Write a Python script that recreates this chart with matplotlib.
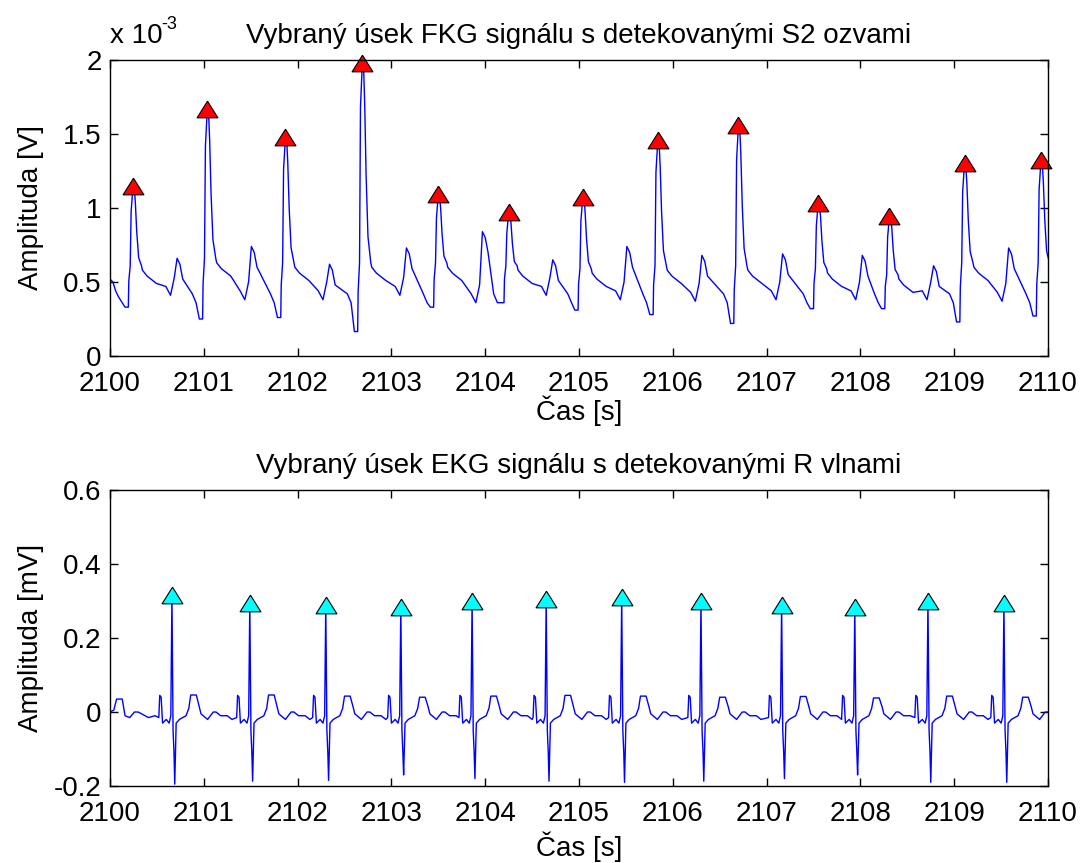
import matplotlib
matplotlib.use("Agg")
import matplotlib.pyplot as plt
from matplotlib.ticker import FormatStrFormatter
import numpy as np

plt.rcParams['font.family'] = ['Liberation Sans', 'DejaVu Sans']

# ---- FKG (x 1e-3 V) : detected S2 sounds
s2_t = [2100.245, 2101.037, 2101.870, 2102.690, 2103.500, 2104.250, 2105.040,
        2105.840, 2106.700, 2107.550, 2108.310, 2109.110, 2109.925]
s2_amp = [1.149, 1.669, 1.480, 1.980, 1.095, 0.973, 1.074,
          1.459, 1.561, 1.034, 0.946, 1.304, 1.324]
fkg_dip = [0.33, 0.25, 0.26, 0.165, 0.33, 0.36, 0.31, 0.28, 0.22, 0.32, 0.32, 0.23, 0.27]
fkg_plateau = [0.58, 0.63, 0.60, 0.60, 0.60, 0.58, 0.56, 0.58, 0.58, 0.56, 0.52, 0.60, 0.60]
fkg_low = [0.41, 0.38, 0.38, 0.41, 0.36, 0.41, 0.38, 0.37, 0.38, 0.38, 0.38, 0.37, 0.38]
fkg_bump = [0.66, 0.74, 0.62, 0.73, 0.84, 0.65, 0.74, 0.68, 0.69, 0.68, 0.61, 0.73, 0.70]
fkg_lead_t = [2100.00, 2100.03, 2100.06, 2100.09, 2100.12]
fkg_lead_v = [0.52, 0.50, 0.44, 0.40, 0.37]

# ---- EKG (mV) : detected R waves
r_t = [2100.660, 2101.490, 2102.300, 2103.100, 2103.860, 2104.650,
       2105.455, 2106.300, 2107.160, 2107.940, 2108.720, 2109.530]
r_amp = [0.315, 0.294, 0.288, 0.283, 0.300, 0.306, 0.310, 0.300, 0.288, 0.283, 0.300, 0.294]
s_min = [-0.195, -0.187, -0.185, -0.170, -0.180, -0.187, -0.190, -0.187, -0.180, -0.170, -0.190, -0.190]
t_amp = [0.046, 0.046, 0.043, 0.040, 0.043, 0.045, 0.043, 0.040, 0.042, 0.038, 0.043, 0.040]
ekg_lead_t = [2100.00, 2100.04, 2100.07, 2100.13, 2100.16, 2100.21, 2100.26, 2100.30, 2100.41, 2100.48]
ekg_lead_v = [0.0, 0.005, 0.035, 0.035, -0.01, -0.015, 0.0, 0.0, -0.015, -0.01]


def fkg_trace():
    tt = list(fkg_lead_t)
    vv = list(fkg_lead_v)
    for i, tp in enumerate(s2_t):
        P = s2_amp[i]
        d = fkg_dip[i]
        pl = fkg_plateau[i]
        lo = fkg_low[i]
        b = fkg_bump[i]
        tn = s2_t[i + 1] if i + 1 < len(s2_t) else 2110.6
        pts = [(-0.085, d), (-0.05, d), (-0.045, 0.5 * (d + pl) + 0.05), (-0.03, pl + 0.03),
               (-0.02, 0.85 * P), (0.0, P), (0.012, P),
               (0.025, pl + 0.8 * (P - pl)), (0.04, pl + 0.45 * (P - pl)),
               (0.06, pl + 0.15 * (P - pl)), (0.09, pl + 0.03), (0.10, pl), (0.15, pl - 0.04),
               (0.25, pl - 0.09), (0.35, lo + 0.06), (0.40, lo), (0.44, lo + 0.12),
               (0.47, b), (0.50, b - 0.04), (0.53, b - 0.14)]
        for off, v in pts:
            if tp + off < tn - 0.17:
                tt.append(tp + off)
                vv.append(v)
        if i + 1 < len(s2_t):
            tt += [tn - 0.16, tn - 0.12]
            vv += [0.42, 0.36]
    return np.array(tt), np.array(vv)


def ekg_trace():
    tt = list(ekg_lead_t)
    vv = list(ekg_lead_v)
    for i, tr in enumerate(r_t):
        tn = r_t[i + 1] if i + 1 < len(r_t) else 2110.6
        T = t_amp[i]
        pts = [(-0.14, -0.015), (-0.13, 0.045), (-0.115, 0.04), (-0.10, -0.03),
               (-0.06, -0.02), (-0.03, -0.03), (-0.012, -0.01), (0.0, r_amp[i]),
               (0.012, -0.05), (0.022, -0.11), (0.03, s_min[i]), (0.045, -0.03),
               (0.08, -0.02), (0.15, -0.01), (0.18, 0.01), (0.20, T), (0.26, T),
               (0.29, 0.015), (0.31, -0.005), (0.38, -0.02), (0.44, 0.0), (0.47, 0.0),
               (0.52, -0.01), (0.59, -0.01), (0.64, -0.02)]
        for off, v in pts:
            if tr + off < tn - 0.14:
                tt.append(tr + off)
                vv.append(v)
    return np.array(tt), np.array(vv)


tri = [(0, 1), (-1.25, -1), (1.25, -1), (0, 1)]

fig = plt.figure(figsize=(10.83, 8.63), dpi=100)
ax1 = fig.add_axes([0.1016, 0.5875, 0.8661, 0.343])
ax2 = fig.add_axes([0.1016, 0.0892, 0.8661, 0.343])

ft, fv = fkg_trace()
ax1.plot(ft, fv, color='#0000ff', lw=1.0)
ax1.plot(s2_t, s2_amp, ls='none', marker=tri, ms=15, mfc='#ff0000', mec='black', mew=0.8, clip_on=False)
ax1.set_xlim(2100, 2110)
ax1.set_ylim(0, 2)
ax1.set_yticks([0, 0.5, 1, 1.5, 2])
ax1.set_title('Vybraný úsek FKG signálu s detekovanými S2 ozvami', fontsize=20, pad=12)
ax1.set_ylabel('Amplituda [V]', fontsize=20)
fig.text(0.1016, 0.950, 'x 10', fontsize=20, ha='left', va='baseline')
fig.text(0.149, 0.966, '-3', fontsize=13, ha='left', va='baseline')

et, ev = ekg_trace()
ax2.plot(et, ev, color='#0000ff', lw=1.0)
ax2.plot(r_t, r_amp, ls='none', marker=tri, ms=15, mfc='#00ffff', mec='black', mew=0.8, clip_on=False)
ax2.set_xlim(2100, 2110)
ax2.set_ylim(-0.2, 0.6)
ax2.set_yticks([-0.2, 0, 0.2, 0.4, 0.6])
ax2.set_title('Vybraný úsek EKG signálu s detekovanými R vlnami', fontsize=20, pad=12)
ax2.set_ylabel('Amplituda [mV]', fontsize=20)

for ax in (ax1, ax2):
    ax.set_xticks(np.arange(2100, 2111, 1))
    ax.xaxis.set_major_formatter(FormatStrFormatter('%d'))
    ax.yaxis.set_major_formatter(FormatStrFormatter('%g'))
    ax.tick_params(direction='in', length=6, width=1, top=True, right=True,
                   labelsize=20)
    ax.tick_params(axis='x', pad=11)
    ax.tick_params(axis='y', pad=6)
    ax.yaxis.set_label_coords(-0.07, 0.5)
    for sp in ax.spines.values():
        sp.set_linewidth(1.0)
ax1.set_xlabel('Čas [s]', fontsize=20, labelpad=-1)
ax2.set_xlabel('Čas [s]', fontsize=20, labelpad=3)

fig.savefig('out.png', dpi=100)
